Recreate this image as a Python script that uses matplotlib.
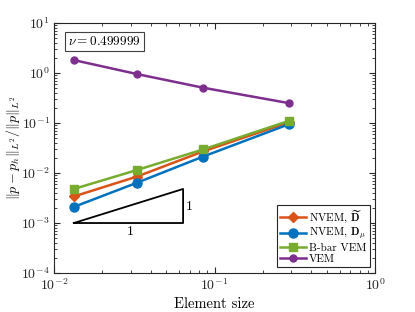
import matplotlib.pyplot as plt

plt.rcParams['mathtext.fontset'] = 'cm'
plt.rcParams['font.family'] = 'serif'
plt.rcParams['font.serif'] = ['cmr10', 'DejaVu Serif']
plt.rcParams['axes.formatter.use_mathtext'] = True

# mesh sizes and relative L2 pressure errors
h = [0.0133, 0.0329, 0.0847, 0.291]
err_nvem_dt = [0.0034, 0.0085, 0.027, 0.104]
err_nvem_dmu = [0.0021, 0.0064, 0.0213, 0.095]
err_bbar = [0.0048, 0.0115, 0.0296, 0.111]
err_vem = [1.82, 0.955, 0.51, 0.25]

# slope triangle
tri_x = [0.0133, 0.0637, 0.0637, 0.0133]
tri_y = [1e-3, 1e-3, 0.0048, 1e-3]

c_orange = '#D95319'
c_blue = '#0072BD'
c_green = '#77AC30'
c_purple = '#7E2F8E'

fig = plt.figure(figsize=(4.15, 3.12), dpi=100)
ax = fig.add_axes([0.130, 0.125, 0.774, 0.801])

ax.loglog(h, err_nvem_dt, '-D', color=c_orange, lw=1.8, ms=5, label=r'NVEM, $\widetilde{\mathbf{D}}$')
ax.loglog(h, err_nvem_dmu, '-o', color=c_blue, lw=1.8, ms=6.5, label=r'NVEM, $\mathbf{D}_\mu$')
ax.loglog(h, err_bbar, '-s', color=c_green, lw=1.8, ms=5.5, label='B-bar VEM')
ax.loglog(h, err_vem, '-o', color=c_purple, lw=1.8, ms=5, label='VEM')

ax.plot(tri_x, tri_y, '-', color='k', lw=1.3)
ax.text(0.03, 6.6e-4, '1', fontsize=10, ha='center', va='center')
ax.text(0.070, 2.1e-3, '1', fontsize=10, ha='center', va='center')

ax.text(0.0122, 4.3, r'$\nu = 0.499999$', fontsize=9.5, ha='left', va='center',
        bbox=dict(boxstyle='square,pad=0.25', fc='white', ec='#404040', lw=0.8))

ax.set_xlim(1e-2, 1e0)
ax.set_ylim(1e-4, 1e1)
ax.set_xlabel('Element size', fontsize=10.5, labelpad=3)
ax.set_ylabel(r'$\|p - p_h\|_{L^2}/\|p\|_{L^2}$', fontsize=10)
ax.yaxis.set_label_coords(-0.098, 0.5)

ax.tick_params(which='both', direction='in', top=True, right=True, colors='#262626', labelsize=10)
ax.tick_params(which='major', length=4, pad=3)
ax.tick_params(which='minor', length=2)
for sp in ax.spines.values():
    sp.set_color('#262626')
    sp.set_linewidth(0.8)

leg = ax.legend(loc='lower right', fontsize=8, fancybox=False, edgecolor='#262626',
                framealpha=1, borderaxespad=0.5, handlelength=2.3, labelspacing=0.1,
                borderpad=0.3, handletextpad=0.3)
leg.get_frame().set_linewidth(0.8)

fig.savefig('out.png', dpi=100)
